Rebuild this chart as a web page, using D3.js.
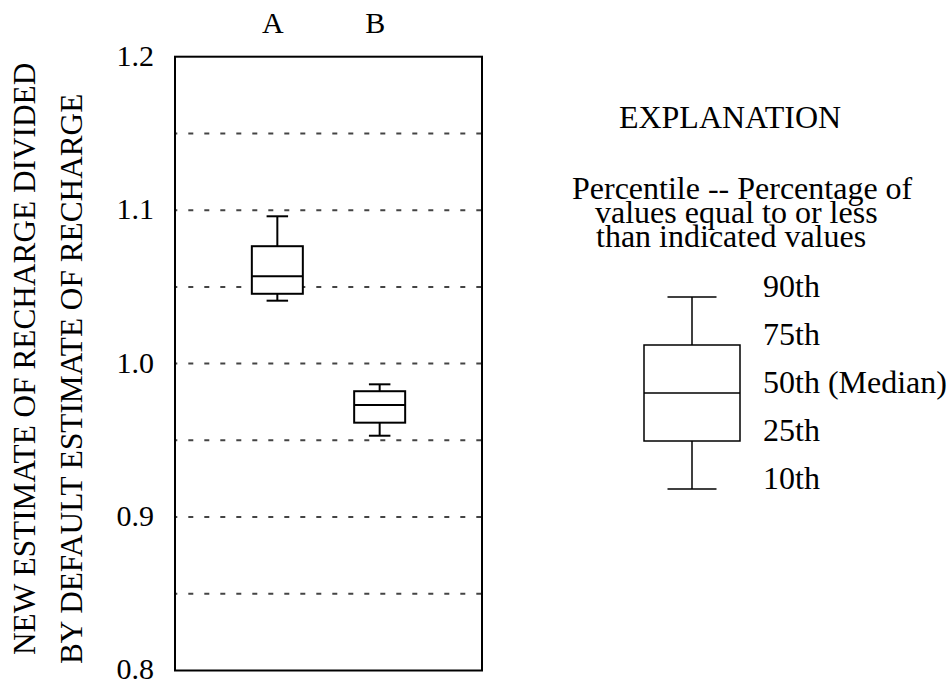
<!DOCTYPE html>
<html>
<head>
<meta charset="utf-8">
<script src="https://cdn.jsdelivr.net/npm/d3@7"></script>
<style>
  html, body { margin: 0; padding: 0; background: #fff; }
  svg text { font-family: 'Liberation Serif', 'Times New Roman', Tinos, 'DejaVu Serif', serif; fill: #000; }
</style>
</head>
<body>
<svg id="chart" width="952" height="684"></svg>
<script>
// ---- data ----
const categories = ["A", "B"];
const p10 = [1.041, 0.953];
const p25 = [1.0455, 0.9615];
const p50 = [1.057, 0.973];
const p75 = [1.0765, 0.982];
const p90 = [1.096, 0.9865];

const yTicks = [0.8, 0.9, 1.0, 1.1, 1.2];
const yTickLabels = ["0.8", "0.9", "1.0", "1.1", "1.2"];
const gridValues = [0.85, 0.9, 0.95, 1.0, 1.05, 1.1, 1.15];

const yTitleLines = ["NEW ESTIMATE OF RECHARGE DIVIDED", "BY DEFAULT ESTIMATE OF RECHARGE"];
const legendTitle = "EXPLANATION";
const legendCaption = ["Percentile -- Percentage of", "values equal to or less", "than indicated values"];
const legendLabels = ["90th", "75th", "50th (Median)", "25th", "10th"];

// ---- layout ----
const svg = d3.select("#chart");
const plot = { left: 175, right: 482, top: 56.7, bottom: 670.5 };
const FS = 30, FS_LEG = 32, FS_TITLE = 31.3;
const SERIF = "'Liberation Serif', 'Times New Roman', Tinos, 'DejaVu Serif', serif";

const x = d3.scalePoint().domain(categories).range([plot.left, plot.right]).padding(1);
const y = d3.scaleLinear().domain([0.8, 1.2]).range([plot.bottom, plot.top]);

// gridlines
svg.append("g").selectAll("line").data(gridValues).join("line")
  .attr("x1", plot.left).attr("x2", plot.right)
  .attr("y1", d => y(d)).attr("y2", d => y(d))
  .attr("stroke", "#444").attr("stroke-width", 2)
  .attr("stroke-dasharray", "5,11").attr("stroke-dashoffset", 2.7);

// frame
svg.append("rect")
  .attr("x", plot.left).attr("y", plot.top)
  .attr("width", plot.right - plot.left).attr("height", plot.bottom - plot.top)
  .attr("fill", "none").attr("stroke", "#000").attr("stroke-width", 2);

// y tick labels
const yAxis = d3.axisLeft(y).tickValues(yTicks)
  .tickFormat((d, i) => yTickLabels[i]).tickSize(0).tickPadding(21);
const ya = svg.append("g").attr("transform", `translate(${plot.left},0)`).call(yAxis)
  .attr("font-family", SERIF).attr("font-size", FS);
ya.select(".domain").remove();
ya.selectAll("text").attr("dy", "0.28em");

// top category labels
const xAxis = d3.axisTop(x).tickSize(0).tickPadding(24);
const xa = svg.append("g").attr("transform", `translate(-5,${plot.top})`).call(xAxis)
  .attr("font-family", SERIF).attr("font-size", FS);
xa.select(".domain").remove();

// boxes
const boxW = 51, capW = 21.5;
const rows = categories.map((c, i) => ({ c, p10: p10[i], p25: p25[i], p50: p50[i], p75: p75[i], p90: p90[i] }));
const g = svg.append("g").attr("stroke", "#000").attr("stroke-width", 2).attr("fill", "none");
const bx = g.selectAll("g").data(rows).join("g");
bx.append("line").attr("x1", d => x(d.c)).attr("x2", d => x(d.c)).attr("y1", d => y(d.p90)).attr("y2", d => y(d.p75));
bx.append("line").attr("x1", d => x(d.c)).attr("x2", d => x(d.c)).attr("y1", d => y(d.p25)).attr("y2", d => y(d.p10));
bx.append("line").attr("x1", d => x(d.c) - capW / 2).attr("x2", d => x(d.c) + capW / 2).attr("y1", d => y(d.p90)).attr("y2", d => y(d.p90));
bx.append("line").attr("x1", d => x(d.c) - capW / 2).attr("x2", d => x(d.c) + capW / 2).attr("y1", d => y(d.p10)).attr("y2", d => y(d.p10));
bx.append("rect").attr("x", d => x(d.c) - boxW / 2).attr("width", boxW)
  .attr("y", d => y(d.p75)).attr("height", d => y(d.p25) - y(d.p75)).attr("fill", "#fff");
bx.append("line").attr("x1", d => x(d.c) - boxW / 2).attr("x2", d => x(d.c) + boxW / 2).attr("y1", d => y(d.p50)).attr("y2", d => y(d.p50));

// y axis title (rotated)
const titleX = [35, 82];
const titleStart = [655, 664];
yTitleLines.forEach((t, i) => {
  svg.append("text")
    .attr("transform", `translate(${titleX[i]},${titleStart[i]}) rotate(-90)`)
    .attr("text-anchor", "start").attr("font-family", SERIF).attr("font-size", FS_TITLE).text(t);
});

// legend
const lg = svg.append("g").attr("font-family", SERIF).attr("font-size", FS_LEG);
lg.append("text").attr("x", 730).attr("y", 128).attr("text-anchor", "middle").text(legendTitle);
const capX = [572, 595, 596];
const capY = d3.scalePoint().domain(legendCaption).range([199, 247]);
lg.selectAll("text.cap").data(legendCaption).join("text").attr("class", "cap")
  .attr("x", (d, i) => capX[i]).attr("y", d => capY(d)).attr("text-anchor", "start")
  .text(d => d);

const ly = d3.scalePoint().domain(legendLabels).range([297, 489]);
const lcx = 692, lBoxW = 96, lCapW = 49;
const lb = lg.append("g").attr("stroke", "#000").attr("stroke-width", 1.5).attr("fill", "none");
lb.append("line").attr("x1", lcx).attr("x2", lcx).attr("y1", ly(legendLabels[0])).attr("y2", ly(legendLabels[1]));
lb.append("line").attr("x1", lcx).attr("x2", lcx).attr("y1", ly(legendLabels[3])).attr("y2", ly(legendLabels[4]));
lb.append("line").attr("x1", lcx - lCapW / 2).attr("x2", lcx + lCapW / 2).attr("y1", ly(legendLabels[0])).attr("y2", ly(legendLabels[0]));
lb.append("line").attr("x1", lcx - lCapW / 2).attr("x2", lcx + lCapW / 2).attr("y1", ly(legendLabels[4])).attr("y2", ly(legendLabels[4]));
lb.append("rect").attr("x", lcx - lBoxW / 2).attr("width", lBoxW)
  .attr("y", ly(legendLabels[1])).attr("height", ly(legendLabels[3]) - ly(legendLabels[1]));
lb.append("line").attr("x1", lcx - lBoxW / 2).attr("x2", lcx + lBoxW / 2).attr("y1", ly(legendLabels[2])).attr("y2", ly(legendLabels[2]));

lg.selectAll("text.pl").data(legendLabels).join("text").attr("class", "pl")
  .attr("x", 763).attr("y", d => ly(d)).text(d => d);
</script>
</body>
</html>
